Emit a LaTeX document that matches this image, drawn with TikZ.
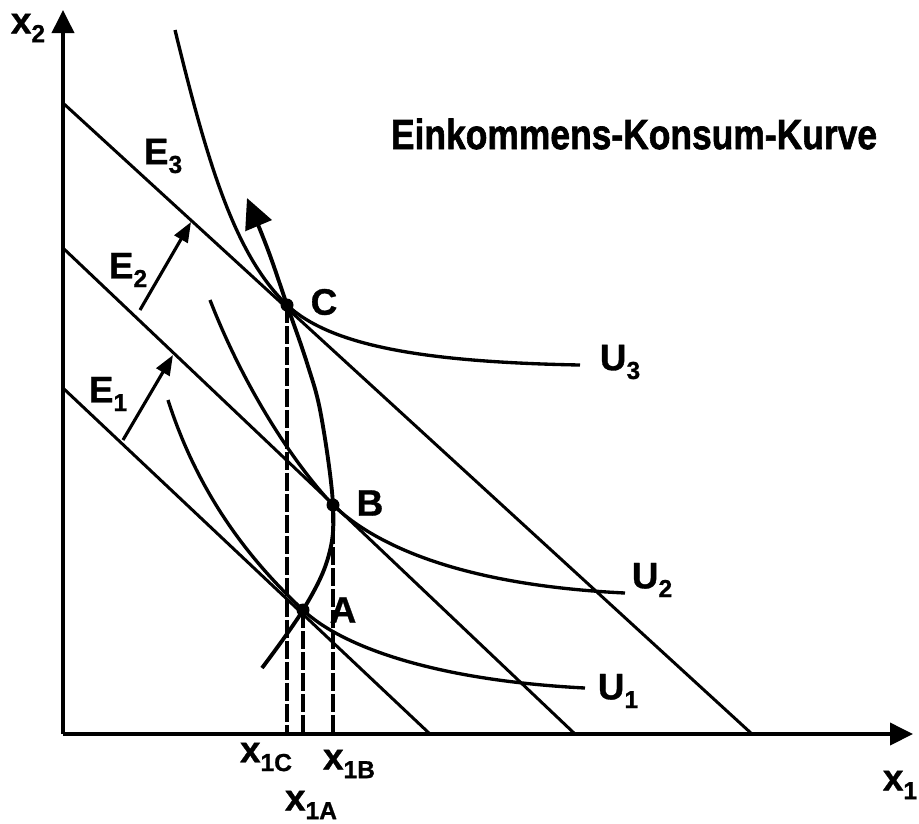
\documentclass[tikz,border=0pt]{standalone}
\usepackage{fontspec}
\setmainfont{Liberation Sans}
\newfontfamily\heavyfont[BoldFeatures={FakeBold=1.6}]{Liberation Sans}
\newfontfamily\labelfont[BoldFeatures={FakeBold=0.9}]{Liberation Sans}
\usetikzlibrary{arrows.meta, calc}

\newcommand{\withsub}[2]{#1\raisebox{-0.45ex}{\fontsize{14}{14}\selectfont #2}}

\begin{document}
\begin{tikzpicture}[
    x={(0.02cm,0)}, y={(0,-0.02cm)},
    axis/.style={line width=2.2pt, -{Triangle[length=0.46cm, width=0.44cm]}},
    budget/.style={line width=1.7pt},
    indiff/.style={line width=1.9pt},
    icc/.style={line width=2.2pt, -{Triangle[length=0.6cm, width=0.56cm]}},
    incomeshift/.style={line width=1.8pt, -{Triangle[length=0.4cm, width=0.3cm]}},
    guide/.style={line width=1.8pt, dash pattern=on 0.36cm off 0.06cm},
    lbl/.style={font=\labelfont\fontsize{21}{24}\selectfont\bfseries, inner sep=0pt},
    optimum/.style={circle, fill=black, inner sep=0pt, minimum size=0.26cm},
]
\useasboundingbox (0,0) rectangle (919,823);

% Axes
\coordinate (origin) at (63,734);
\coordinate (ytip) at (63,10);
\coordinate (xtip) at (913,734);
\draw[axis] (origin) -- (ytip);
\draw[axis] (origin) -- (xtip);
\node[lbl] (x2lbl) at (28,28) {\withsub{x}{2}};
\node[lbl] (x1lbl) at (900,785) {\withsub{x}{1}};

% Budget lines
\coordinate (e1top) at (63,388);
\coordinate (e1bot) at (430,734);
\coordinate (e2top) at (63,248);
\coordinate (e2bot) at (575,734);
\coordinate (e3top) at (63,103);
\coordinate (e3bot) at (752,734);
\draw[budget] (e1top) -- (e1bot);
\draw[budget] (e2top) -- (e2bot);
\draw[budget] (e3top) -- (e3bot);
\node[lbl] (E1lbl) at (108,394) {\withsub{E}{1}};
\node[lbl] (E2lbl) at (128,270) {\withsub{E}{2}};
\node[lbl] (E3lbl) at (163,156) {\withsub{E}{3}};

% Shifts of the budget line
\coordinate (s1from) at (123,440);
\coordinate (s1to) at (173,355);
\coordinate (s2from) at (140,310);
\coordinate (s2to) at (191,222);
\draw[incomeshift] (s1from) -- (s1to);
\draw[incomeshift] (s2from) -- (s2to);

% Optima
\coordinate (A) at (303,610);
\coordinate (B) at (333,505);
\coordinate (C) at (287,305);

% Indifference curves
\draw[indiff] (168,400) .. controls (200,500) and (255,565) .. (A)
    .. controls (340,645) and (430,680) .. (585,688);
\draw[indiff] (210,300) .. controls (245,390) and (295,465) .. (B)
    .. controls (375,545) and (460,585) .. (625,593);
\draw[indiff] (175,30) .. controls (208,165) and (235,255) .. (C)
    .. controls (330,345) and (420,362) .. (580,365);
\node[lbl] (U1lbl) at (618,691) {\withsub{U}{1}};
\node[lbl] (U2lbl) at (652,580) {\withsub{U}{2}};
\node[lbl] (U3lbl) at (620,362) {\withsub{U}{3}};

% Income-consumption curve
\draw[icc] plot[smooth, tension=0.6] coordinates
    {(262,668) (A) (328,558) (B) (321,415) (307,363) (C) (268,250) (247,198)};

% Dashed guides to the x1 axis
\draw[guide] (C) -- (C |- origin);
\draw[guide] (A) -- (A |- origin);
\draw[guide] (B) -- (B |- origin);

\node[optimum] (Adot) at (A) {};
\node[optimum] (Bdot) at (B) {};
\node[optimum] (Cdot) at (C) {};
\node[lbl] (Albl) at (343,610) {A};
\node[lbl] (Blbl) at (370,503) {B};
\node[lbl] (Clbl) at (324,302) {C};

\node[lbl] (x1Clbl) at (266,757) {\withsub{x}{1C}};
\node[lbl] (x1Blbl) at (349,764) {\withsub{x}{1B}};
\node[lbl] (x1Albl) at (311,805) {\withsub{x}{1A}};

% Title
\node[font=\heavyfont\fontsize{24}{28}\selectfont\bfseries, inner sep=0pt] (title) at (634,134)
    {\scalebox{0.84}[1]{Einkommens-Konsum-Kurve}};

\end{tikzpicture}
\end{document}
